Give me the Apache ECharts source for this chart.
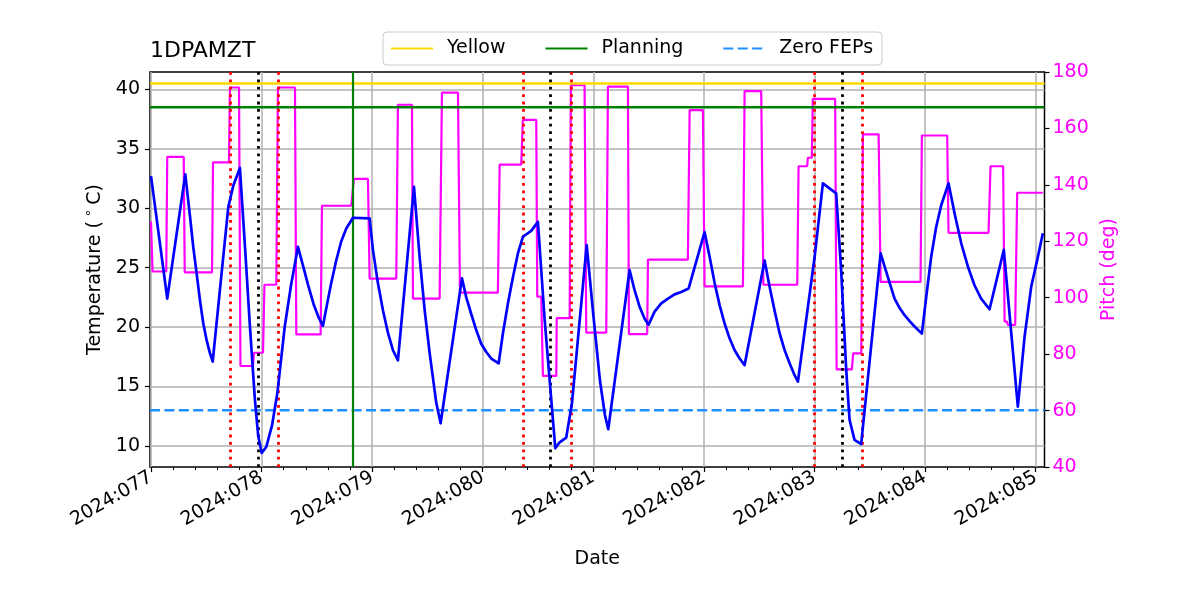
<!DOCTYPE html>
<html><head><meta charset="utf-8">
<script src="https://cdn.jsdelivr.net/npm/echarts@6/dist/echarts.min.js"></script>
<style>html,body{margin:0;padding:0;background:#fff}#c{width:1200px;height:600px}</style>
</head><body><div id="c"></div>
<script>
// ---- data ----
const tempDay = [77.000,77.014,77.147,77.310,77.353,77.382,77.413,77.442,77.473,77.503,77.533,77.558,77.624,77.699,77.744,77.804,77.850,77.895,77.940,77.970,78.001,78.042,78.094,78.142,78.209,78.266,78.329,78.374,78.419,78.473,78.519,78.555,78.600,78.630,78.675,78.720,78.766,78.826,78.977,79.007,79.052,79.098,79.143,79.188,79.233,79.378,79.429,79.475,79.520,79.580,79.619,79.812,79.851,79.896,79.941,79.986,80.032,80.077,80.144,80.183,80.228,80.273,80.318,80.363,80.438,80.499,80.560,80.656,80.695,80.755,80.807,80.940,80.999,81.060,81.105,81.135,81.328,81.373,81.419,81.464,81.500,81.554,81.614,81.675,81.735,81.795,81.862,82.006,82.052,82.097,82.142,82.187,82.232,82.278,82.323,82.368,82.549,82.594,82.639,82.684,82.730,82.775,82.820,82.850,83.001,83.076,83.196,83.241,83.287,83.317,83.362,83.422,83.598,83.672,83.724,83.770,83.815,83.860,83.905,83.971,84.010,84.055,84.100,84.146,84.212,84.267,84.327,84.387,84.448,84.507,84.583,84.712,84.839,84.900,84.960,85.020,85.065];
const tempC = [32.7,32.7,22.4,32.85,29.3,26.75,24.5,22.3,20.3,18.9,17.8,17.1,23.2,30.1,31.9,33.4,26.75,20.0,13.85,10.8,9.4,9.9,11.7,14.4,20.0,23.5,26.75,25.2,23.6,21.85,20.75,20.1,22.3,23.7,25.6,27.2,28.3,29.2,29.15,26.5,23.7,21.4,19.5,18.05,17.2,31.8,25.9,21.4,17.8,13.6,11.9,24.1,22.5,21.1,19.75,18.6,17.9,17.35,16.95,19.5,22.0,24.2,26.2,27.6,28.1,28.85,20.6,9.8,10.3,10.7,13.6,26.9,21.1,15.5,12.6,11.4,24.8,23.1,21.7,20.7,20.2,21.3,22.0,22.4,22.75,22.95,23.25,28.0,25.9,23.7,21.85,20.3,19.05,18.05,17.35,16.8,25.6,23.4,21.4,19.5,18.05,16.95,15.95,15.4,25.9,32.1,31.25,24.8,16.4,12.2,10.5,10.15,26.2,23.95,22.4,21.6,21.0,20.5,20.05,19.45,22.5,25.9,28.4,30.25,32.1,29.55,27.05,25.1,23.5,22.4,21.5,26.5,13.3,19.2,23.4,25.9,27.9];

const pitchDay = [77.000,77.014,77.138,77.147,77.296,77.305,77.552,77.561,77.705,77.714,77.796,77.809,77.922,77.931,78.013,78.026,78.133,78.148,78.302,78.314,78.534,78.546,78.811,78.835,78.962,78.977,79.218,79.233,79.360,79.369,79.610,79.631,79.776,79.794,80.137,80.153,80.348,80.363,80.484,80.493,80.529,80.544,80.665,80.669,80.786,80.797,80.921,80.936,81.117,81.132,81.313,81.322,81.487,81.494,81.855,81.871,81.991,82.006,82.353,82.368,82.518,82.538,82.844,82.856,82.934,82.940,82.976,82.985,83.187,83.200,83.338,83.350,83.423,83.438,83.580,83.598,83.959,83.971,84.200,84.212,84.574,84.592,84.706,84.719,84.740,84.749,84.815,84.833,85.065];
const pitchDeg = [127,109.3,109.3,149.9,149.9,109.0,109.0,148.0,148.0,174.5,174.5,75.8,75.8,80.5,80.5,104.6,104.6,174.5,174.5,87.0,87.0,132.6,132.6,142.1,142.1,106.8,106.8,168.4,168.4,99.7,99.7,172.7,172.7,101.8,101.8,147.2,147.2,163.0,163.0,100.4,100.4,72.3,72.3,92.75,92.75,175.3,175.3,87.6,87.6,174.8,174.8,87.1,87.1,113.5,113.5,166.5,166.5,104.0,104.0,173.25,173.25,104.6,104.6,146.6,146.6,149.6,149.6,170.5,170.5,74.6,74.6,80.3,80.3,157.9,157.9,105.6,105.6,157.5,157.5,123.0,123.0,146.6,146.6,91.55,91.55,90.4,90.4,137.2,137.2];

const tickDays = [77,78,79,80,81,82,83,84,85];
const tempTicks = [10,15,20,25,30,35,40];

const limitNames = ['Yellow','Planning','Zero FEPs'];
const limitVals = [40.5, 38.5, 13.0];

const redDays = [77.716, 78.148, 80.368, 80.800, 83.002, 83.432];
const blackDays = [77.967, 80.610, 83.250];
const greenDays = [78.820];

const XMIN = 76.991, XMAX = 85.08, TMIN = 8.22, TMAX = 41.47;

// ---- build ----
const FONT = 'DejaVu Sans';
const FS = 19;
const tempData = tempDay.map((d,i)=>[d,tempC[i]]);
const pitchData = pitchDay.map((d,i)=>[d,pitchDeg[i]]);
const minorDays = [];
for (let i=0;i<tickDays.length-1;i++){ for(let k=1;k<5;k++){ minorDays.push(tickDays[i]+k*(tickDays[i+1]-tickDays[i])/5); } }

const limitColors = ['#FFD700','#008000','#1E90FF'];
const limitTypes = ['solid','solid',[10,4.4]];

const vLines = [];
redDays.forEach(d=>vLines.push({xAxis:d, lineStyle:{color:'#ff0000', type:[2.8,4.6], width:2.8}}));
blackDays.forEach(d=>vLines.push({xAxis:d, lineStyle:{color:'#000000', type:[2.8,4.6], width:2.8}}));
greenDays.forEach(d=>vLines.push({xAxis:d, lineStyle:{color:'#008000', type:'solid', width:2.2}}));

const chart = echarts.init(document.getElementById('c'), null, {renderer:'canvas'});
const series = [
  {name:'Pitch', type:'line', yAxisIndex:1, data:pitchData, symbol:'none', lineStyle:{color:'#FF00FF', width:2.2}, itemStyle:{color:'#FF00FF'}, z:2, silent:true},
  {name:'vlines', type:'line', data:[], z:3, silent:true,
   markLine:{silent:true, symbol:['none','none'], label:{show:false}, animation:false, data:vLines}},
  {name:'Temp', type:'line', yAxisIndex:0, data:tempData, symbol:'none', lineStyle:{color:'#0000FF', width:2.7, join:'round'}, itemStyle:{color:'#0000FF'}, z:5, silent:true}
];
limitNames.forEach((n,i)=>{
  series.push({name:n, type:'line', yAxisIndex:0, data:[[XMIN,limitVals[i]],[XMAX,limitVals[i]]], symbol:'none',
    lineStyle:{color:limitColors[i], width:2.4, type:limitTypes[i]}, itemStyle:{color:limitColors[i]}, z:4, silent:true});
});

chart.setOption({
  animation:false,
  backgroundColor:'#ffffff',
  textStyle:{fontFamily:FONT},
  title:{text:'1DPAMZT', left:150, top:40, padding:0, textStyle:{fontSize:22, fontWeight:'normal', color:'#000', fontFamily:FONT}},
  legend:{data:limitNames, left:383, top:32, padding:[7,9,7,7], itemGap:39, itemWidth:42, itemHeight:14,
    itemStyle:{opacity:0},
    borderColor:'#cccccc', borderWidth:1, borderRadius:4, backgroundColor:'#ffffff',
    textStyle:{fontSize:FS, color:'#000', fontFamily:FONT, padding:[0,0,0,9]}},
  grid:{left:150, right:155.5, top:72, bottom:133, show:true, borderColor:'#000', borderWidth:1.5, backgroundColor:'transparent'},
  xAxis:[
    {type:'value', min:XMIN, max:XMAX, minInterval:1, maxInterval:1, position:'bottom',
     axisLine:{show:false},
     axisTick:{show:true, length:5, lineStyle:{color:'#000', width:1.2}, customValues:tickDays},
     axisLabel:{customValues:tickDays, rotate:30, fontSize:FS, color:'#000', fontFamily:FONT, margin:9,
       formatter:v=>'2024:0'+Math.round(v)},
     splitLine:{show:true, lineStyle:{color:'#b0b0b0', width:1.5}},
     name:'Date', nameLocation:'middle', nameGap:83, nameTextStyle:{fontSize:FS, color:'#000', fontFamily:FONT}},
    {type:'value', min:XMIN, max:XMAX, position:'bottom', minInterval:1, maxInterval:1,
     axisLine:{show:false}, axisLabel:{show:false}, splitLine:{show:false},
     axisTick:{show:true, length:3, lineStyle:{color:'#000', width:1}, customValues:minorDays}}
  ],
  yAxis:[
    {type:'value', min:TMIN, max:TMAX, minInterval:5, maxInterval:5, position:'left',
     axisLine:{show:false},
     axisTick:{show:true, length:5, lineStyle:{color:'#000', width:1.2}, customValues:tempTicks},
     axisLabel:{customValues:tempTicks, fontSize:FS, color:'#000', fontFamily:FONT, margin:10},
     splitLine:{show:true, lineStyle:{color:'#b0b0b0', width:1.5}},
     name:'{a|Temperature (}{s| \u2218 }{a|C)}', nameLocation:'middle', nameGap:40,
     nameTextStyle:{fontSize:FS, color:'#000', fontFamily:FONT,
       rich:{a:{fontSize:FS, fontFamily:FONT, color:'#000', lineHeight:23, verticalAlign:'bottom'},
             s:{fontSize:13, fontFamily:FONT, color:'#000', lineHeight:23, verticalAlign:'top'}}}},
    {type:'value', min:40, max:180, interval:20, position:'right',
     axisLine:{show:false},
     axisTick:{show:true, length:5, lineStyle:{color:'#000', width:1.2}},
     axisLabel:{fontSize:FS, color:'#FF00FF', fontFamily:FONT, margin:8},
     splitLine:{show:false},
     name:'Pitch (deg)', nameLocation:'middle', nameGap:50, nameTextStyle:{fontSize:FS, color:'#FF00FF', fontFamily:FONT}}
  ],
  series:series
});
</script></body></html>
